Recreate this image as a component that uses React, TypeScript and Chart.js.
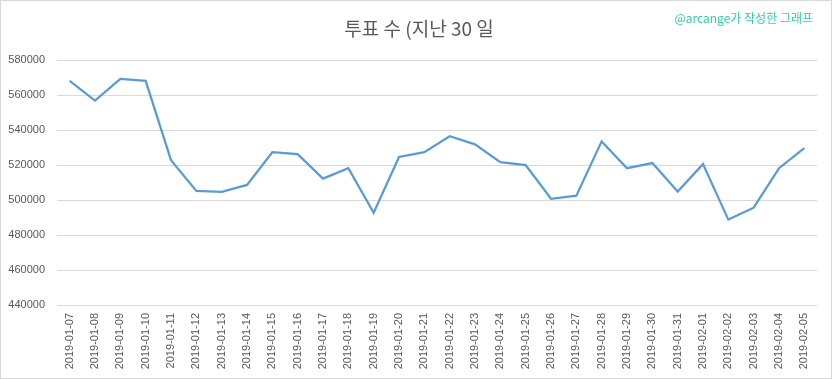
import React, { useEffect, useRef } from "react";
import { Chart, registerables } from "chart.js";

Chart.register(...registerables);

const categories: string[] = [
  "2019-01-07", "2019-01-08", "2019-01-09", "2019-01-10", "2019-01-11",
  "2019-01-12", "2019-01-13", "2019-01-14", "2019-01-15", "2019-01-16",
  "2019-01-17", "2019-01-18", "2019-01-19", "2019-01-20", "2019-01-21",
  "2019-01-22", "2019-01-23", "2019-01-24", "2019-01-25", "2019-01-26",
  "2019-01-27", "2019-01-28", "2019-01-29", "2019-01-30", "2019-01-31",
  "2019-02-01", "2019-02-02", "2019-02-03", "2019-02-04", "2019-02-05",
];

const votes: number[] = [
  568100, 556800, 569200, 568100, 522800,
  505200, 504600, 508600, 527300, 526200,
  512200, 518200, 492700, 524600, 527300,
  536400, 531800, 521600, 519900, 500700,
  502500, 533500, 518200, 521100, 504800,
  520500, 488800, 495600, 518200, 529700,
];

const yMin = 440000;
const yMax = 580000;
const yStep = 20000;

const titleText = "투표 수 (지난 30 일";
const watermarkText = "@arcange가 작성한 그래프";

const textPlugin = {
  id: "textPlugin",
  afterDraw(chart: any) {
    const ctx = chart.ctx;
    ctx.save();
    ctx.fillStyle = "#595959";
    ctx.font = '19px "Noto Sans CJK KR", sans-serif';
    ctx.textAlign = "center";
    ctx.textBaseline = "middle";
    ctx.fillText(titleText, 418, 28);
    ctx.fillStyle = "#2fd0a0";
    ctx.font = '12px "Noto Sans CJK KR", sans-serif';
    ctx.textAlign = "right";
    ctx.fillText(watermarkText, 812, 17);
    ctx.restore();
  },
};

export default function App() {
  const ref = useRef<HTMLCanvasElement | null>(null);

  useEffect(() => {
    if (!ref.current) return;
    const chart = new Chart(ref.current, {
      type: "line",
      data: {
        labels: categories,
        datasets: [
          {
            data: votes,
            borderColor: "#5b9bd5",
            borderWidth: 2.25,
            pointRadius: 0,
            tension: 0,
            fill: false,
          },
        ],
      },
      options: {
        animation: false,
        responsive: false,
        maintainAspectRatio: false,
        layout: { padding: { top: 59, right: 14, left: 0, bottom: 0 } },
        plugins: {
          legend: { display: false },
          title: { display: false },
          tooltip: { enabled: false },
        },
        scales: {
          x: {
            offset: true,
            grid: { display: false, drawTicks: false },
            border: { display: false },
            ticks: {
              color: "#595959",
              font: { family: "'Liberation Sans', sans-serif", size: 11 },
              minRotation: 90,
              maxRotation: 90,
              autoSkip: false,
              padding: 8,
            },
            afterFit(scale: any) {
              scale.height = 73;
            },
          },
          y: {
            min: yMin,
            max: yMax,
            grid: { color: "#d9d9d9", drawTicks: false, lineWidth: 1 },
            border: { display: false },
            ticks: {
              stepSize: yStep,
              color: "#595959",
              font: { family: "'Liberation Sans', sans-serif", size: 11 },
              padding: 12,
              callback: (v: any) => String(v),
            },
            afterFit(scale: any) {
              scale.width = 56;
            },
          },
        },
      },
      plugins: [textPlugin],
    });
    return () => chart.destroy();
  }, []);

  return (
    <div
      style={{
        position: "fixed",
        left: 0,
        top: 0,
        width: 832,
        height: 379,
        boxSizing: "border-box",
        border: "1px solid #d9d9d9",
        background: "#fff",
        overflow: "hidden",
      }}
    >
      <canvas ref={ref} width={830} height={377} style={{ display: "block" }} />
    </div>
  );
}
